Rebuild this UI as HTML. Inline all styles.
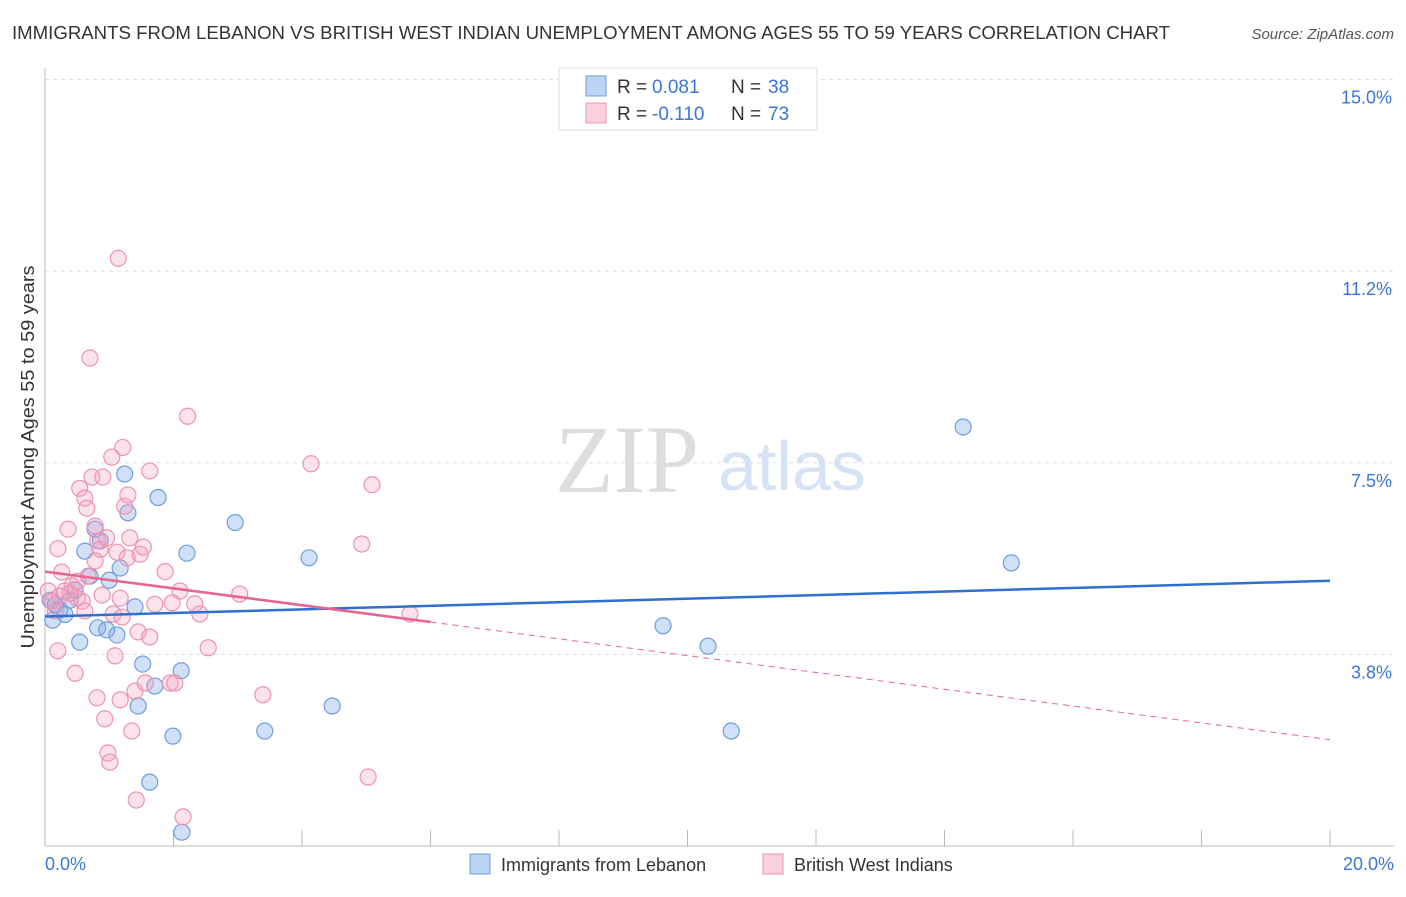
<!DOCTYPE html>
<html><head><meta charset="utf-8"><style>
body{margin:0;background:#fff;font-family:"Liberation Sans",sans-serif;}
</style></head><body>
<svg id="c" width="1406" height="892"></svg>
<script>
const blueX=[0.12,0.08,0.16,0.23,0.31,0.39,0.47,0.54,0.62,0.7,0.78,0.86,0.82,0.96,1.0,1.12,1.17,1.24,1.29,1.4,1.45,1.52,1.71,1.76,1.99,1.63,2.12,2.13,2.21,2.96,3.42,4.11,4.47,9.62,10.32,10.68,14.29,15.04];
const blueY=[4.42,4.81,4.72,4.62,4.53,4.81,5.01,3.99,5.77,5.28,6.2,5.97,4.27,4.23,5.2,4.13,5.44,7.28,6.52,4.68,2.74,3.56,3.13,6.82,2.15,1.25,3.43,0.27,5.73,6.33,2.25,5.64,2.74,4.31,3.91,2.25,8.2,5.54];
const pinkX=[0.05,0.11,0.16,0.2,0.26,0.31,0.36,0.42,0.47,0.5,0.54,0.58,0.62,0.65,0.67,0.7,0.73,0.78,0.81,0.82,0.86,0.9,0.93,0.96,0.98,1.01,1.04,1.06,1.09,1.12,1.14,1.17,1.2,1.21,1.24,1.28,1.29,1.32,1.35,1.4,1.42,1.45,1.48,1.53,1.56,1.63,1.63,1.71,1.87,1.95,1.98,2.02,2.1,2.15,2.22,2.33,2.41,2.54,3.03,3.39,4.14,4.93,5.03,5.09,5.68,0.23,0.39,0.51,0.78,0.62,0.89,0.2,1.17];
const pinkY=[4.99,4.79,4.6,5.82,5.36,4.99,6.2,5.09,3.38,4.85,7.0,4.79,6.81,6.61,5.28,9.55,7.22,6.26,2.9,5.97,5.81,7.22,2.49,6.03,1.82,1.64,7.61,4.54,3.72,5.75,11.5,4.85,4.48,7.8,6.65,5.64,6.87,6.03,2.25,3.03,0.9,4.19,5.71,5.85,3.19,4.09,7.34,4.73,5.37,3.19,4.76,3.19,4.99,0.57,8.41,4.74,4.54,3.88,4.93,2.96,7.48,5.91,1.35,7.07,4.54,4.89,4.95,5.18,5.58,4.6,4.91,3.82,2.86];
const yTicks=[3.8,7.5,11.2,15.0];
const yTickVals=[3.75,7.5,11.25,15.0];
const blueLine=[4.49,5.19];
const pinkLine=[5.37,2.08];
const X=v=>45+v/20*1285, Y=v=>846-v*51.1;
const s=document.getElementById('c');const NS='http://www.w3.org/2000/svg';
function el(t,a,txt){const e=document.createElementNS(NS,t);for(const k in a)e.setAttribute(k,a[k]);if(txt!==undefined)e.textContent=txt;s.appendChild(e);return e;}
let e;
e=el('text',{x:12,y:39,'font-size':18,fill:'#333',textLength:1158,lengthAdjust:'spacingAndGlyphs'},'IMMIGRANTS FROM LEBANON VS BRITISH WEST INDIAN UNEMPLOYMENT AMONG AGES 55 TO 59 YEARS CORRELATION CHART');


e=el('text',{x:1394,y:39,'font-size':15,fill:'#555','font-style':'italic','text-anchor':'end'},'Source: ZipAtlas.com');


yTickVals.forEach((v,i)=>{
 e=el('line',{x1:45,x2:1394,y1:Y(v),y2:Y(v),stroke:'#ddd','stroke-dasharray':'4,4'});
 
 
 e=el('text',{x:1392,y:Y(v)+24,'font-size':18,fill:'#3b76d6','text-anchor':'end'},yTicks[i].toFixed(1)+'%');
 
 
});
e=el('line',{x1:45,x2:45,y1:68,y2:846,stroke:'#bbb'});


e=el('line',{x1:45,x2:1394,y1:846,y2:846,stroke:'#bbb'});


for(let i=0;i<=10;i++){e=el('line',{x1:X(i*2),x2:X(i*2),y1:830,y2:846,stroke:'#bbb'});
 
 }
e=el('text',{x:45,y:870,'font-size':18,fill:'#3b76d6'},'0.0%');


e=el('text',{x:1394,y:870,'font-size':18,fill:'#3b76d6','text-anchor':'end'},'20.0%');


e=el('text',{x:34,y:457,'font-size':18,fill:'#333','text-anchor':'middle',textLength:383,lengthAdjust:'spacingAndGlyphs',transform:'rotate(-90 34 457)'},'Unemployment Among Ages 55 to 59 years');


e=el('text',{x:555,y:492,'font-size':96,fill:'#ddd','font-family':'Liberation Serif'},'ZIP');


e=el('text',{x:718,y:490,'font-size':70,fill:'#d6e3f5'},'atlas');


blueX.forEach((v,i)=>{e=el('circle',{cx:X(v),cy:Y(blueY[i]),r:8,fill:'rgba(120,165,230,0.35)',stroke:'#6e9de0','stroke-width':1.2});
 
 });
pinkX.forEach((v,i)=>{e=el('circle',{cx:X(v),cy:Y(pinkY[i]),r:8,fill:'rgba(245,160,190,0.3)',stroke:'#ec92b2','stroke-width':1.2});
 
 });
e=el('line',{x1:X(0),x2:X(20),y1:Y(blueLine[0]),y2:Y(blueLine[1]),stroke:'#2e6fd2','stroke-width':2.5});


const pAt=v=>pinkLine[0]+(pinkLine[1]-pinkLine[0])*v/20;
e=el('line',{x1:X(0),x2:X(6),y1:Y(pAt(0)),y2:Y(pAt(6)),stroke:'#e6668f','stroke-width':2.5});


e=el('line',{x1:X(6),x2:X(20),y1:Y(pAt(6)),y2:Y(pAt(20)),stroke:'#e6668f','stroke-width':1,'stroke-dasharray':'6,5'});


e=el('rect',{x:559,y:68,width:258,height:62,fill:'#fff',stroke:'#ddd'});


[['#bcd3f5','#6e9de0','0.081','38',86],['#fbd0de','#ec92b2','-0.110','73',113]].forEach(r=>{
 e=el('rect',{x:586,y:r[4]-10,width:20,height:20,fill:r[0],stroke:r[1]});
 
 
 e=el('text',{x:617,y:r[4]+7,'font-size':19,fill:'#333'},'R = ');
 
 
 e=el('text',{x:652,y:r[4]+7,'font-size':19,fill:'#3b76d6'},r[2]);
 
 
 e=el('text',{x:731,y:r[4]+7,'font-size':19,fill:'#333'},'N = ');
 
 
 e=el('text',{x:768,y:r[4]+7,'font-size':19,fill:'#3b76d6'},r[3]);
 
 
});
[[470,'#bcd3f5','#6e9de0','Immigrants from Lebanon'],[763,'#fbd0de','#ec92b2','British West Indians']].forEach(r=>{
 e=el('rect',{x:r[0],y:854,width:20,height:20,fill:r[1],stroke:r[2]});
 
 
 e=el('text',{x:r[0]+31,y:871,'font-size':18,fill:'#333'},r[3]);
 
 
});
</script>
</body></html>
